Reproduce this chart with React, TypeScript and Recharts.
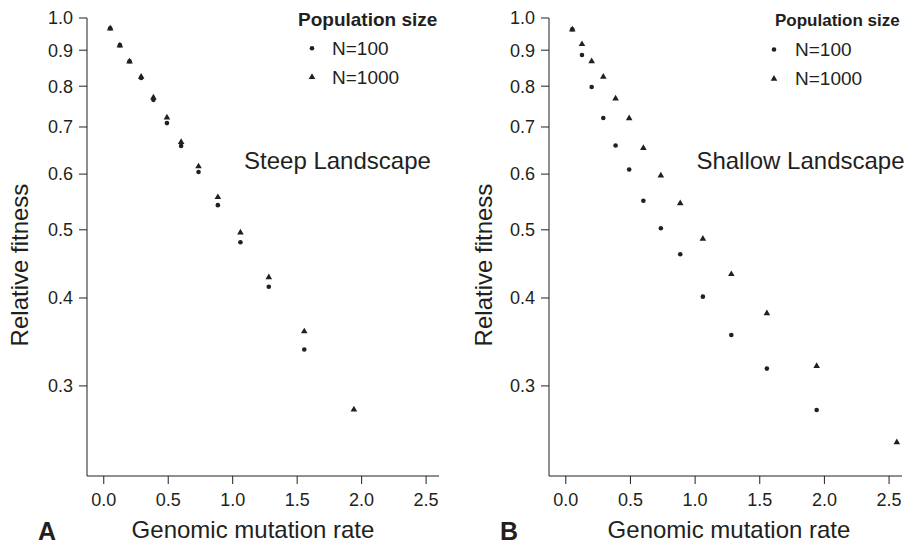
import { ScatterChart, Scatter, XAxis, YAxis, Legend, ReferenceDot } from 'recharts';

// genomic mutation rates shared by both panels
const mutationRate = [0.05, 0.125, 0.2, 0.29, 0.385, 0.49, 0.6, 0.735, 0.885, 1.06, 1.28, 1.555, 1.94, 2.56];

// relative fitness, steep landscape
const steepN100 = [0.967, 0.915, 0.868, 0.822, 0.765, 0.709, 0.658, 0.604, 0.542, 0.48, 0.415, 0.338];
const steepN1000 = [0.967, 0.915, 0.868, 0.826, 0.772, 0.723, 0.667, 0.616, 0.557, 0.496, 0.4285, 0.359, 0.278];

// relative fitness, shallow landscape
const shallowN100 = [0.964, 0.886, 0.798, 0.721, 0.659, 0.609, 0.55, 0.5025, 0.4616, 0.4018, 0.3544, 0.3175, 0.2773];
const shallowN1000 = [0.964, 0.919, 0.869, 0.826, 0.769, 0.721, 0.654, 0.598, 0.546, 0.486, 0.433, 0.381, 0.3206, 0.2498];

const xTicks = [0, 0.5, 1, 1.5, 2, 2.5];
const yTicks = [0.3, 0.4, 0.5, 0.6, 0.7, 0.8, 0.9, 1.0];
const seriesNames = ['N=100', 'N=1000'];

const INK = '#231f20';
const FONT = '"Liberation Sans", Arial, Helvetica, sans-serif';

const toPoints = (vals: number[]) => vals.map((y, i) => ({ x: mutationRate[i], y }));

const DotMark = (p: any) => <circle cx={p.cx} cy={p.cy} r={2.3} fill={INK} />;
const TriMark = (p: any) => (
	<polygon
		points={`${p.cx},${p.cy - 3.4} ${p.cx + 3.3},${p.cy + 2.3} ${p.cx - 3.3},${p.cy + 2.3}`}
		fill={INK}
	/>
);

type PanelCfg = {
	left: number;
	marginLeft: number;
	marginRight: number;
	small: number[];
	large: number[];
	note: string;
	noteX: number;
	letter: string;
	letterX: number;
	xTitleX: number;
	yTitleX: number;
	legend: { titleX: number; titleSize: number; itemX: number; symX: number; ys: number[] };
};

const panels: PanelCfg[] = [
	{
		left: 0,
		marginLeft: 27,
		marginRight: 11,
		small: steepN100,
		large: steepN1000,
		note: 'Steep Landscape',
		noteX: 1.088,
		letter: 'A',
		letterX: 38,
		xTitleX: 253,
		yTitleX: 28,
		legend: { titleX: 298, titleSize: 19, itemX: 332, symX: 312, ys: [19, 48.3, 76.7] },
	},
	{
		left: 455,
		marginLeft: 34,
		marginRight: 3,
		small: shallowN100,
		large: shallowN1000,
		note: 'Shallow Landscape',
		noteX: 1.01,
		letter: 'B',
		letterX: 45,
		xTitleX: 274,
		yTitleX: 36.5,
		legend: { titleX: 320, titleSize: 17, itemX: 340, symX: 319, ys: [20, 49.5, 78.5] },
	},
];

const PanelLegend = ({ cfg }: { cfg: PanelCfg }) => {
	const { titleX, titleSize, itemX, symX, ys } = cfg.legend;
	return (
		<svg width={450} height={100} style={{ overflow: 'visible' }}>
			<text x={titleX} y={ys[0] + titleSize * 0.358} fontSize={titleSize} fontWeight='bold' fill={INK}>
				Population size
			</text>
			<DotMark cx={symX} cy={ys[1]} />
			<text x={itemX} y={ys[1] + 6.8} fontSize={19} fill={INK}>
				{seriesNames[0]}
			</text>
			<TriMark cx={symX} cy={ys[2]} />
			<text x={itemX} y={ys[2] + 6.8} fontSize={19} fill={INK}>
				{seriesNames[1]}
			</text>
		</svg>
	);
};

const Panel = ({ cfg }: { cfg: PanelCfg }) => (
	<div style={{ position: 'absolute', left: cfg.left, top: 0 }}>
		<ScatterChart
			width={450}
			height={544}
			margin={{ top: 18, right: cfg.marginRight, bottom: 18, left: cfg.marginLeft }}
		>
			<XAxis
				type='number'
				dataKey='x'
				domain={[-0.13, 2.6]}
				ticks={xTicks}
				allowDataOverflow
				tickFormatter={(v) => v.toFixed(1)}
				tickSize={8}
				tickMargin={9}
				height={50}
				stroke={INK}
				tick={{ fill: INK, fontSize: 18 }}
				label={{
					content: () => (
						<g>
							<text x={cfg.xTitleX} y={538} textAnchor='middle' fontSize={24} fill={INK}>
								Genomic mutation rate
							</text>
							<text x={cfg.letterX} y={540} fontSize={25} fontWeight='bold' fill={INK}>
								{cfg.letter}
							</text>
						</g>
					),
				}}
			/>
			<YAxis
				type='number'
				dataKey='y'
				scale='log'
				domain={[0.2234, 1]}
				ticks={yTicks}
				allowDataOverflow
				tickFormatter={(v) => v.toFixed(1)}
				tickSize={8}
				tickMargin={6}
				width={60}
				stroke={INK}
				tick={{ fill: INK, fontSize: 18 }}
				label={{
					content: () => (
						<text
							x={cfg.yTitleX}
							y={265}
							transform={`rotate(-90 ${cfg.yTitleX} 265)`}
							textAnchor='middle'
							fontSize={24}
							fill={INK}
						>
							Relative fitness
						</text>
					),
				}}
			/>
			<ReferenceDot
				x={cfg.noteX}
				y={0.628}
				r={0}
				fill='none'
				stroke='none'
				ifOverflow='visible'
				label={{ value: cfg.note, position: 'right', offset: 0, fontSize: 24, fill: INK }}
			/>
			<Legend
				layout='horizontal'
				verticalAlign='middle'
				align='center'
				wrapperStyle={{ left: 0, top: 0, width: 450, height: 100 }}
				content={() => <PanelLegend cfg={cfg} />}
			/>
			<Scatter
				name={seriesNames[0]}
				data={toPoints(cfg.small)}
				fill={INK}
				shape={DotMark}
				isAnimationActive={false}
			/>
			<Scatter
				name={seriesNames[1]}
				data={toPoints(cfg.large)}
				fill={INK}
				shape={TriMark}
				isAnimationActive={false}
			/>
		</ScatterChart>
	</div>
);

const App = () => (
	<div
		style={{
			position: 'absolute',
			left: 0,
			top: 0,
			width: 905,
			height: 544,
			background: '#fff',
			fontFamily: FONT,
			overflow: 'hidden',
		}}
	>
		{panels.map((cfg) => (
			<Panel key={cfg.letter} cfg={cfg} />
		))}
	</div>
);

export default App;
